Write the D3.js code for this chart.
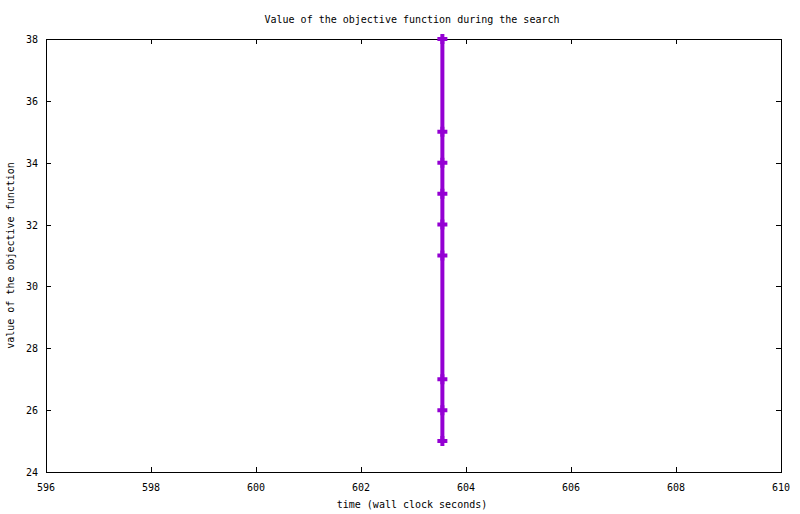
<!DOCTYPE html>
<html>
<head>
<meta charset="utf-8">
<script src="https://cdn.jsdelivr.net/npm/d3@7"></script>
<style>
  body { margin: 0; background: #fff; }
  text { font-family: "DejaVu Sans Mono", monospace; font-size: 10px; fill: #000; }
</style>
</head>
<body>
<div id="chart"></div>
<script>
// data
var times = [603.55, 603.55, 603.55, 603.55, 603.55, 603.55, 603.55, 603.55, 603.55];
var values = [38, 35, 34, 33, 32, 31, 27, 26, 25];
var xTicks = [596, 598, 600, 602, 604, 606, 608, 610];
var yTicks = [24, 26, 28, 30, 32, 34, 36, 38];

var W = 800, H = 514;
var margin = {top: 39, right: 19, bottom: 42, left: 46},
    width = W - margin.left - margin.right,
    height = H - margin.top - margin.bottom;

var colour = "#9400d3";
var tickLen = 5;

var svg = d3.select("#chart").append("svg")
    .attr("width", W)
    .attr("height", H);

var g = svg.append("g")
    .attr("transform", "translate(" + margin.left + "," + margin.top + ")");

var x = d3.scaleLinear().domain([596, 610]).range([0, width]);
var y = d3.scaleLinear().domain([24, 38]).range([height, 0]);

// ticks, inward, mirrored on all sides
g.selectAll(".xt").data(xTicks).enter().append("path")
    .attr("d", function(d) {
        var px = Math.round(x(d)) + 0.5;
        return "M" + px + "," + height + "v" + (-tickLen) + "M" + px + ",0v" + tickLen;
    })
    .attr("stroke", "#000").attr("stroke-width", 1);

g.selectAll(".yt").data(yTicks).enter().append("path")
    .attr("d", function(d) {
        var py = Math.round(y(d)) + 0.5;
        return "M0," + py + "h" + tickLen + "M" + width + "," + py + "h" + (-tickLen);
    })
    .attr("stroke", "#000").attr("stroke-width", 1);

// frame
g.append("rect")
    .attr("x", 0.5).attr("y", 0.5)
    .attr("width", width).attr("height", height)
    .attr("fill", "none").attr("stroke", "#000").attr("stroke-width", 1);

// tick labels
g.selectAll(".xl").data(xTicks).enter().append("text")
    .attr("x", function(d) { return x(d); })
    .attr("y", height + 19)
    .attr("text-anchor", "middle")
    .text(function(d) { return d; });

g.selectAll(".yl").data(yTicks).enter().append("text")
    .attr("x", -8)
    .attr("y", function(d) { return y(d) + 4; })
    .attr("text-anchor", "end")
    .text(function(d) { return d; });

// the series
var pts = times.map(function(t, i) { return [t, values[i]]; });

g.append("path")
    .datum(pts)
    .attr("d", d3.line().x(function(d) { return x(d[0]); }).y(function(d) { return y(d[1]); }))
    .attr("fill", "none")
    .attr("stroke", colour)
    .attr("stroke-width", 4);

var s = 5;
g.selectAll(".pt").data(pts).enter().append("path")
    .attr("d", function(d) {
        var px = x(d[0]), py = y(d[1]);
        return "M" + (px - s) + "," + py + "h" + (2 * s) + "M" + px + "," + (py - s) + "v" + (2 * s);
    })
    .attr("stroke", colour)
    .attr("stroke-width", 4)
    .attr("fill", "none");

// titles
svg.append("text")
    .attr("x", 412).attr("y", 23)
    .attr("text-anchor", "middle")
    .text("Value of the objective function during the search");

svg.append("text")
    .attr("x", 412).attr("y", 508)
    .attr("text-anchor", "middle")
    .text("time (wall clock seconds)");

svg.append("text")
    .attr("transform", "translate(14," + (margin.top + height / 2) + ") rotate(-90)")
    .attr("text-anchor", "middle")
    .text("value of the objective function");
</script>
</body>
</html>
